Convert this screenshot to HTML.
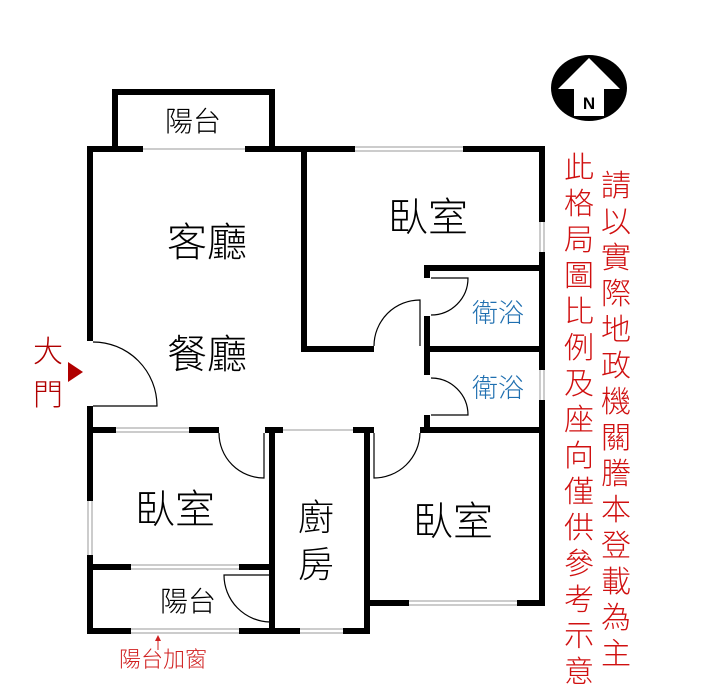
<!DOCTYPE html>
<html><head><meta charset="utf-8"><style>
html,body{margin:0;padding:0;background:#fff;}
svg{display:block}
text{font-family:"Liberation Sans","Noto Sans CJK TC",sans-serif;font-weight:300;}
</style></head><body>
<svg width="715" height="700" viewBox="0 0 715 700" xmlns="http://www.w3.org/2000/svg">
<g fill="#000">
<rect x="112" y="89" width="163" height="6"/>
<rect x="112" y="89" width="6" height="60"/>
<rect x="269" y="89" width="6" height="60"/>
<rect x="87" y="146" width="56" height="6"/>
<rect x="245" y="146" width="110" height="6"/>
<rect x="463" y="146" width="82" height="6"/>
<rect x="87" y="146" width="6" height="195"/>
<rect x="87" y="406" width="6" height="95"/>
<rect x="87" y="555" width="6" height="79"/>
<rect x="301" y="146" width="6" height="206"/>
<rect x="301" y="346" width="73" height="6"/>
<rect x="539" y="146" width="6" height="76"/>
<rect x="539" y="252" width="6" height="118"/>
<rect x="539" y="400" width="6" height="206"/>
<rect x="424" y="265" width="121" height="6"/>
<rect x="424" y="265" width="6" height="13"/>
<rect x="424" y="316" width="6" height="59"/>
<rect x="424" y="415" width="6" height="18"/>
<rect x="424" y="346" width="121" height="6"/>
<rect x="87" y="427" width="29" height="6"/>
<rect x="189" y="427" width="30" height="6"/>
<rect x="265" y="427" width="18" height="6"/>
<rect x="353" y="427" width="21" height="6"/>
<rect x="420" y="427" width="125" height="6"/>
<rect x="269" y="427" width="6" height="207"/>
<rect x="364" y="427" width="6" height="207"/>
<rect x="364" y="600" width="45" height="6"/>
<rect x="517" y="600" width="28" height="6"/>
<rect x="87" y="564" width="44" height="6"/>
<rect x="239" y="564" width="36" height="6"/>
<rect x="87" y="628" width="44" height="6"/>
<rect x="239" y="628" width="61" height="6"/>
<rect x="343" y="628" width="27" height="6"/>
</g>
<g stroke="#999" stroke-width="1" fill="none">
<line x1="143" y1="149" x2="245" y2="149"/>
<line x1="355" y1="147" x2="463" y2="147"/><line x1="355" y1="151" x2="463" y2="151"/>
<line x1="540" y1="222" x2="540" y2="252"/><line x1="544" y1="222" x2="544" y2="252"/>
<line x1="540" y1="370" x2="540" y2="400"/><line x1="544" y1="370" x2="544" y2="400"/>
<line x1="116" y1="428" x2="189" y2="428"/><line x1="116" y1="432" x2="189" y2="432"/>
<line x1="283" y1="430" x2="353" y2="430"/>
<line x1="88" y1="501" x2="88" y2="555"/><line x1="92" y1="501" x2="92" y2="555"/>
<line x1="131" y1="565" x2="239" y2="565"/><line x1="131" y1="569" x2="239" y2="569"/>
<line x1="409" y1="601" x2="517" y2="601"/><line x1="409" y1="605" x2="517" y2="605"/>
<line x1="131" y1="629" x2="239" y2="629"/><line x1="131" y1="633" x2="239" y2="633"/>
<line x1="300" y1="629" x2="343" y2="629"/><line x1="300" y1="633" x2="343" y2="633"/>
</g>
<g stroke="#000" stroke-width="1.2" fill="none">
<path d="M93 406 H157 A64 64 0 0 0 93 342"/>
<path d="M420 346 V300 A46 46 0 0 0 374 346"/>
<path d="M431 278 H468 A37 37 0 0 1 431 315"/>
<path d="M431 415 H468 A37 37 0 0 0 431 378"/>
<path d="M264 433 V478 A45 45 0 0 1 219 433"/>
<path d="M374 433 V478 A46 46 0 0 0 420 433"/>
<path d="M270 575 H224 A47 47 0 0 0 270 622"/>
</g>
<g fill="#000">
<text x="193" y="131" font-size="28" text-anchor="middle">陽台</text>
<text x="207" y="256" font-size="40" text-anchor="middle">客廳</text>
<text x="207" y="368" font-size="40" text-anchor="middle">餐廳</text>
<text x="428" y="231" font-size="40" text-anchor="middle">臥室</text>
<text x="175" y="523" font-size="40" text-anchor="middle">臥室</text>
<text x="453" y="535" font-size="40" text-anchor="middle">臥室</text>
<text x="316" y="530" font-size="36" text-anchor="middle">廚</text>
<text x="316" y="577" font-size="36" text-anchor="middle">房</text>
<text x="188" y="611" font-size="28" text-anchor="middle">陽台</text>
</g>
<g fill="#1f6fb0">
<text x="498" y="322" font-size="26" text-anchor="middle">衛浴</text>
<text x="498" y="397" font-size="26" text-anchor="middle">衛浴</text>
</g>
<g fill="#b00000">
<text x="48" y="362" font-size="30" text-anchor="middle">大</text>
<text x="48" y="405" font-size="30" text-anchor="middle">門</text>
<polygon points="68,362 83,372 68,382"/>
</g>
<g fill="#d02020">
<text x="163" y="667" font-size="22" text-anchor="middle">陽台加窗</text>
<line x1="158" y1="650" x2="158" y2="637" stroke="#d02020" stroke-width="1"/>
<polygon points="155,641 158,635 161,641"/>
</g>
<g fill="#d01010" font-size="30" text-anchor="middle">
<text x="579" y="178">此</text><text x="579" y="214">格</text><text x="579" y="250">局</text><text x="579" y="286">圖</text><text x="579" y="322">比</text><text x="579" y="358">例</text><text x="579" y="394">及</text><text x="579" y="430">座</text><text x="579" y="466">向</text><text x="579" y="502">僅</text><text x="579" y="538">供</text><text x="579" y="574">參</text><text x="579" y="610">考</text><text x="579" y="646">示</text><text x="579" y="682">意</text>
<text x="616" y="196">請</text><text x="616" y="232">以</text><text x="616" y="268">實</text><text x="616" y="304">際</text><text x="616" y="340">地</text><text x="616" y="376">政</text><text x="616" y="412">機</text><text x="616" y="448">關</text><text x="616" y="484">謄</text><text x="616" y="520">本</text><text x="616" y="556">登</text><text x="616" y="592">載</text><text x="616" y="628">為</text><text x="616" y="664">主</text>
</g>
<g>
<ellipse cx="589" cy="88" rx="38" ry="33" fill="#000"/>
<polygon points="589,58 620,89 604,89 604,116 574,116 574,89 558,89" fill="#fff"/>
<text x="589" y="109" font-size="17" style="font-weight:bold" text-anchor="middle" fill="#000">N</text>
</g>
</svg>
</body></html>
